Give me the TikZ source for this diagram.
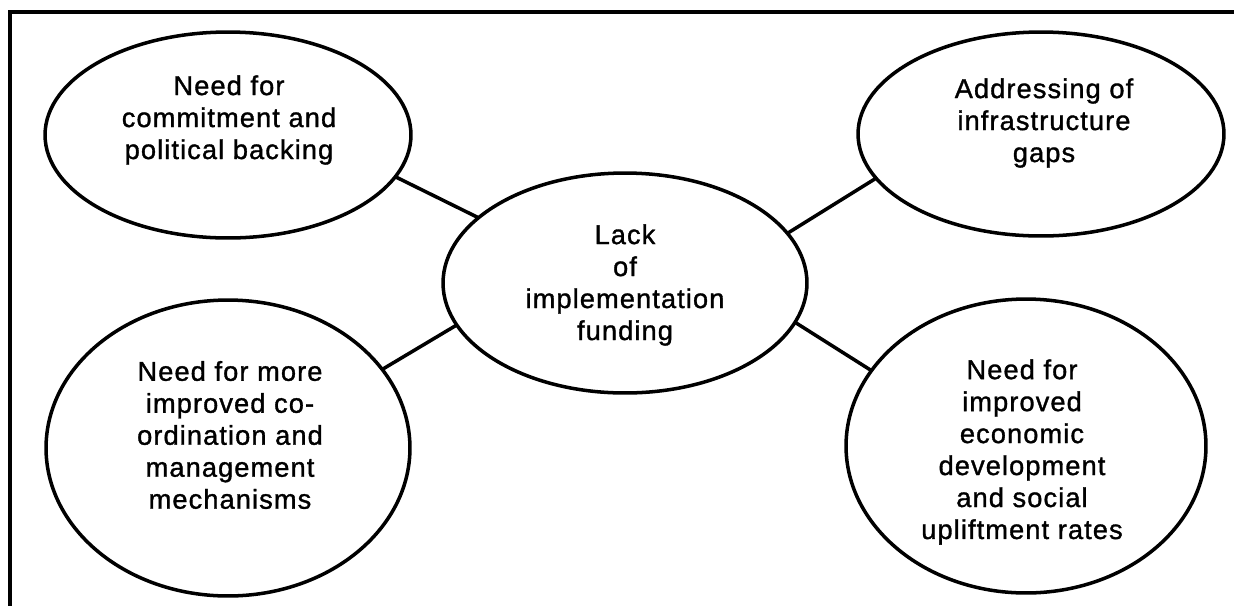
\documentclass[tikz,border=0pt]{standalone}
\usepackage{fontspec}
\setmainfont{Liberation Sans}[LetterSpace=4, FakeBold=1.2]
\usetikzlibrary{shapes.geometric}

\begin{document}
\begin{tikzpicture}[
  x=0.02cm, y=-0.02cm,
  bubble/.style={draw, ellipse, line width=2pt, inner sep=0pt, outer sep=0pt},
  txt/.style={align=center, font=\fontsize{15.5}{18.2}\selectfont, inner sep=0pt},
  link/.style={line width=2pt},
  frame/.style={line width=2pt}
]
\useasboundingbox (0,0) rectangle (1234,606);
\draw[frame] (1234,12) -| (10,606);

% the five bubbles
\node[bubble, minimum width=7.32cm, minimum height=4.12cm] (commit) at (228,135) {};
\node[bubble, minimum width=7.32cm, minimum height=4.08cm] (infra) at (1041,134) {};
\node[bubble, minimum width=7.28cm, minimum height=4.40cm] (funding) at (625,283) {};
\node[bubble, minimum width=7.28cm, minimum height=5.92cm] (coord) at (228,448) {};
\node[bubble, minimum width=7.20cm, minimum height=5.88cm] (econ) at (1026,446) {};

% texts
\node[txt] (commitT) at (229,120) {Need for\\commitment and\\political backing};
\node[txt] (infraT) at (1044,123) {Addressing of\\infrastructure\\gaps};
\node[txt] (fundingT) at (625,285) {Lack\\of\\implementation\\funding};
\node[txt] (coordT) at (230,435) {Need for more\\improved co-\\ordination and\\management\\mechanisms};
\node[txt] (econT) at (1022,452) {Need for\\improved\\economic\\development\\and social\\upliftment rates};

% links to the hub
\draw[link] (commit.-14) -- (funding.156);
\draw[link] (funding.17) -- (infra.-165);
\draw[link] (coord.27) -- (funding.-166);
\draw[link] (funding.-13) -- (econ.154);
\end{tikzpicture}
\end{document}
